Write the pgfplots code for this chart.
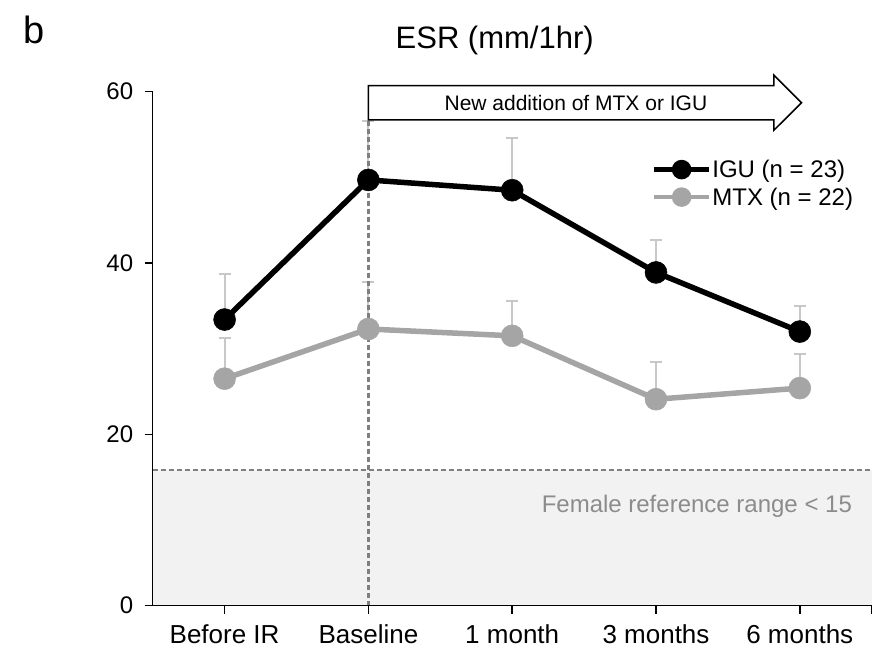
\documentclass[border=0pt]{standalone}
\usepackage{fontspec}
\setmainfont{Liberation Sans}
\usepackage{pgfplots}
\usepackage{pgfplotstable}
\pgfplotsset{compat=1.18}

\definecolor{mtxgray}{HTML}{A5A5A5}
\definecolor{errgray}{HTML}{C8C8C8}
\definecolor{refline}{HTML}{808080}
\definecolor{refshade}{HTML}{F2F2F2}
\definecolor{reftext}{HTML}{8C8C8C}

% ESR means and upper SD per visit (0 = before IR, 1 = baseline, 2..4 = follow-up)
\pgfplotstableread{
x igu iguerr mtx mtxerr
0 33.4 5.3 26.5 4.8
1 49.7 6.9 32.3 5.5
2 48.5 6.1 31.5 4.1
3 38.9 3.8 24.1 4.3
4 32.0 3.0 25.4 4.0
}\esrdata

\begin{document}
\begin{tikzpicture}
\useasboundingbox (-152.7bp,-47.3bp) rectangle (727.3bp,605.7bp);
\begin{axis}[
  at={(0,0)}, anchor=south west,
  scale only axis, width=719bp, height=514bp,
  xmin=-0.5, xmax=4.5, ymin=0, ymax=60,
  axis lines*=left,
  axis line style={line width=1.5bp, black},
  axis on top,
  xtick={0,...,4},
  xticklabels={Before IR, Baseline, 1 month, 3 months, 6 months},
  extra x ticks={4.5}, extra x tick labels={},
  ytick={0,20,40,60},
  tick align=outside, major tick length=8bp,
  tick style={line width=1.5bp, black},
  xticklabel style={font=\fontsize{26bp}{30bp}\selectfont, yshift=-7bp},
  yticklabel style={font=\fontsize{24bp}{28bp}\selectfont, xshift=-8bp},
  /pgf/number format/assume math mode=true,
  clip=false,
  legend style={draw=none, fill=none, at={(0.694,0.8217)}, anchor=west,
    inner sep=0pt, row sep=8bp, nodes={inner sep=0pt},
    font=\fontsize{24bp}{28bp}\selectfont,
    /tikz/every odd column/.append style={column sep=1bp}},
  legend cell align=left,
  legend image code/.code={
    \draw[#1, line width=4.5bp] (0bp,0bp) -- (55bp,0bp);
    \fill[#1] (27.5bp,0bp) circle[radius=7bp];
  },
]

% female reference range band
\addplot[draw=none, fill=refshade, forget plot] coordinates {(-0.5,15.8) (4.5,15.8)} \closedcycle;
\addplot[refline, line width=2bp, dash pattern=on 5bp off 3bp, forget plot]
  coordinates {(-0.5,15.8) (4.5,15.8)};
\node[anchor=base east, text=reftext, font=\fontsize{24bp}{28bp}\selectfont]
  at (axis cs:4.387,10.86) {Female reference range < 15};

% upper SD bars
\addplot[forget plot, mark=none, draw opacity=0,
  error bars/.cd, y dir=plus, y explicit,
  error bar style={draw opacity=1, errgray, line width=2bp},
  error mark options={draw opacity=1, rotate=90, errgray, mark size=6bp, line width=2bp}]
  table[x=x, y=igu, y error=iguerr] {\esrdata};
\addplot[forget plot, mark=none, draw opacity=0,
  error bars/.cd, y dir=plus, y explicit,
  error bar style={draw opacity=1, errgray, line width=2bp},
  error mark options={draw opacity=1, rotate=90, errgray, mark size=6bp, line width=2bp}]
  table[x=x, y=mtx, y error=mtxerr] {\esrdata};

% group means
\addplot[black, line width=5.5bp, mark=*, mark size=11bp,
  mark options={solid, fill=black, line width=0.5bp}]
  table[x=x, y=igu] {\esrdata};
\addlegendentry{IGU (n = 23)}
\addplot[mtxgray, line width=5.5bp, mark=*, mark size=11bp,
  mark options={solid, fill=mtxgray, line width=0.5bp}]
  table[x=x, y=mtx] {\esrdata};
\addlegendentry{MTX (n = 22)}

% start of the new treatment
\addplot[refline, line width=2.2bp, dash pattern=on 5bp off 3bp, forget plot]
  coordinates {(1,0) (1,56.7)};

% treatment arrow
\draw[black, line width=1.5bp, fill=white, line join=miter]
  (axis cs:1,60.71) -- (axis cs:3.82,60.71) -- (axis cs:3.82,61.93)
  -- (axis cs:4.012,58.71) -- (axis cs:3.82,55.5) -- (axis cs:3.82,56.71)
  -- (axis cs:1,56.71) -- cycle;
\node[font=\fontsize{21bp}{25bp}\selectfont] at (axis cs:2.443,58.71)
  {New addition of MTX or IGU};
\end{axis}

\node[anchor=base west, font=\fontsize{38bp}{42bp}\selectfont] at (-133bp,562.4bp) {b};
\node[anchor=base, font=\fontsize{31bp}{35bp}\selectfont] at (342bp,557.4bp) {ESR (mm/1hr)};
\end{tikzpicture}
\end{document}
